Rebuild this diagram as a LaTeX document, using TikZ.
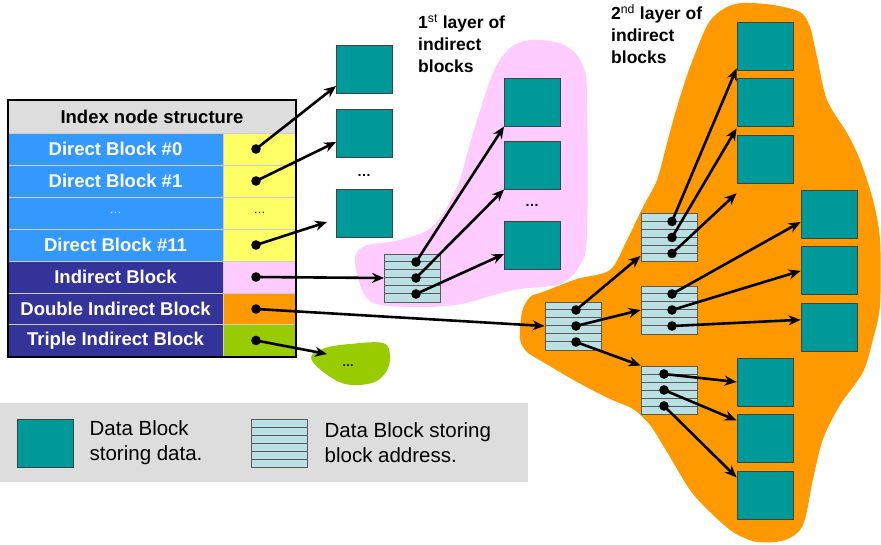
\documentclass[tikz,border=0pt]{standalone}
\usepackage{fontspec}
\setmainfont{Liberation Sans}
\usetikzlibrary{arrows.meta,positioning}

\definecolor{datateal}{RGB}{0,153,153}
\definecolor{addrcyan}{RGB}{187,224,227}
\definecolor{directblue}{RGB}{51,153,255}
\definecolor{indirblue}{RGB}{51,51,153}
\definecolor{ptryellow}{RGB}{255,255,102}
\definecolor{layerpink}{RGB}{255,204,255}
\definecolor{layerorange}{RGB}{255,153,0}
\definecolor{triplegreen}{RGB}{153,204,0}
\definecolor{headgray}{RGB}{221,221,221}

\tikzset{
  datablk/.style={draw=black!75, line width=0.9pt, fill=datateal,
    minimum width=56pt, minimum height=48pt, inner sep=0pt},
  addrblk/.style={draw=black!65, line width=0.9pt, fill=addrcyan,
    minimum width=56pt, minimum height=48pt, inner sep=0pt,
    path picture={\foreach \k in {1,...,5}
      \draw[black!65, line width=1pt]
        ([yshift=-\k*8pt]path picture bounding box.north west) --
        ([yshift=-\k*8pt]path picture bounding box.north east);}},
  headcell/.style={draw=gray!60, fill=headgray, minimum width=288pt,
    minimum height=33pt, inner sep=0pt, font=\fontsize{18.5}{20}\selectfont\bfseries},
  namecell/.style={draw=gray!40, text=white, minimum width=215pt,
    minimum height=32pt, inner sep=0pt, font=\fontsize{18.5}{20}\selectfont\bfseries},
  ptrcell/.style={draw=gray!40, minimum width=73pt, minimum height=32pt, inner sep=0pt},
  ptr/.style={line width=2.6pt, -{Stealth[length=12pt,width=10pt]}},
  layerlabel/.style={align=left, anchor=north west, inner sep=0pt,
    font=\fontsize{17.5}{22}\selectfont\bfseries},
  legendtxt/.style={align=left, anchor=west, inner sep=0pt,
    font=\fontsize{20.5}{25}\selectfont},
  moredots/.style={inner sep=0pt, font=\fontsize{14}{14}\selectfont\bfseries},
}

\begin{document}
\begin{tikzpicture}[x=1pt,y=-1pt]
\useasboundingbox (0,0) rectangle (881,545);

% layer backgrounds
\fill[layerpink] plot[smooth cycle, tension=0.55] coordinates {
  (355,262) (365,246) (400,240) (433,226) (457,187) (473,133) (493,73)
  (510,48) (530,40) (555,42) (572,50) (583,66) (587,95) (587,233)
  (580,265) (560,284) (520,289) (490,296) (462,304) (420,307) (370,301)};
\fill[layerorange] plot[smooth cycle, tension=0.5] coordinates {
  (743,3) (773,5) (800,12) (810,27) (817,57) (827,100) (847,133) (860,160)
  (873,200) (880,240) (880,305) (873,339) (863,372) (840,405) (823,439)
  (813,479) (803,525) (785,540) (757,542) (733,532) (710,512) (690,490)
  (667,452) (650,425) (633,409) (610,399) (577,382) (543,362) (527,352)
  (520,339) (522,312) (530,297) (543,292) (577,279) (610,270) (627,240)
  (643,207) (657,180) (667,143) (677,107) (690,67) (708,24) (725,8)};
\fill[triplegreen] plot[smooth cycle, tension=0.6] coordinates {
  (311,357) (325,348) (350,344) (383,343) (390,356) (386,372) (372,383)
  (345,384) (322,371)};

% legend
\fill[headgray] (0,403) rectangle (528,482);
\node[datablk] (leg1) at (45,443) {};
\node[legendtxt, right=16pt of leg1] (legtxt1) {Data Block\\storing data.};
\node[addrblk] (leg2) at (279,443) {};
\node[legendtxt, right=17pt of leg2] (legtxt2) {Data Block storing\\block address.};

% index node table
\node[headcell] (head) at (152,116.5) {Index node structure};
\foreach \i/\y/\txt/\bg/\pc in {
    0/149/Direct Block \#0/directblue/ptryellow,
    1/181/Direct Block \#1/directblue/ptryellow,
    2/213/{\mdseries\fontsize{12}{12}\selectfont\dots}/directblue/ptryellow,
    3/245/Direct Block \#11/directblue/ptryellow,
    4/277/Indirect Block/indirblue/layerpink,
    5/309/Double Indirect Block/indirblue/layerorange,
    6/340.5/Triple Indirect Block/indirblue/triplegreen}
{
  \node[namecell, fill=\bg] (n\i) at (115.5,\y) {\txt};
  \node[ptrcell, fill=\pc] (c\i) at (259.5,\y) {};
  \coordinate (t\i) at ([shift={(-3.5,0)}]c\i.center);
}
\node[inner sep=0pt, font=\fontsize{12}{12}\selectfont] (c2dots) at (c2) {\dots};
\draw[line width=2.4pt] (head.north west) rectangle (c6.south east);

% direct data blocks
\node[datablk] (d0) at (364.5,69) {};
\node[datablk] (d1) at (364.5,133) {};
\node[datablk] (d2) at (364.5,213.5) {};
\node[moredots] (ddots) at (364,175) {\dots};

% 1st layer
\node[layerlabel] (lab1) at (418,14.5) {1\textsuperscript{\mdseries st} layer of\\indirect\\blocks};
\node[datablk] (p0) at (532.5,102) {};
\node[datablk] (p1) at (532.5,165) {};
\node[datablk] (p2) at (532.5,245) {};
\node[moredots] (pdots) at (532,205) {\dots};
\node[addrblk] (pi) at (412.5,278) {};

% 2nd layer
\node[layerlabel] (lab2) at (611,4.5) {2\textsuperscript{\mdseries nd} layer of\\indirect\\blocks};
\node[addrblk] (m) at (573,326) {};
\node[addrblk] (sa) at (669,237.5) {};
\node[addrblk] (sb) at (669,310) {};
\node[addrblk] (sc) at (669,390) {};
\node[datablk] (o0) at (765,46) {};
\node[datablk, below=8pt of o0] (o1) {};
\node[datablk, below=8pt of o1] (o2) {};
\node[datablk] (o3) at (765,382) {};
\node[datablk, below=8pt of o3] (o4) {};
\node[datablk, below=8pt of o4] (o5) {};
\node[datablk] (q0) at (829,214) {};
\node[datablk, below=8pt of q0] (q1) {};
\node[datablk, below=8pt of q1] (q2) {};

% 3rd layer
\node[moredots, font=\fontsize{12}{12}\selectfont\bfseries] (gdots) at (348,366) {\dots};
\coordinate (tripleend) at (327,354);

% address slots
\foreach \b/\dx in {pi/3.5, m/3, sa/3, sb/3, sc/-5}
  \foreach \k/\dy in {1/-16, 2/0, 3/16}
    \coordinate (\b\k) at ([shift={(\dx,\dy)}]\b.center);

% pointers
\draw[ptr] (t0) -- ([shift={(0,17)}]d0.west);
\draw[ptr] (t1) -- ([shift={(0,9)}]d1.west);
\draw[ptr] (t3) -- ([shift={(-9,8.5)}]d2.west);
\draw[ptr] (t4) -- (pi.west);
\draw[ptr] (t5) -- (m.west);
\draw[ptr] (t6) -- (tripleend);

\draw[ptr] (pi1) -- (p0.south west);
\draw[ptr] (pi2) -- (p1.south west);
\draw[ptr] (pi3) -- ([shift={(0,9)}]p2.west);

\draw[ptr] (m1) -- ([shift={(0,-6)}]sa.south west);
\draw[ptr] (m2) -- (sb.west);
\draw[ptr] (m3) -- (sc.north west);

\draw[ptr] (sa1) -- ([shift={(0,-2)}]o0.south west);
\draw[ptr] (sa2) -- ([shift={(0,1)}]o1.south west);
\draw[ptr] (sa3) -- ([shift={(0,9)}]o2.south west);
\draw[ptr] (sb1) -- ([shift={(0,8)}]q0.west);
\draw[ptr] (sb2) -- (q1.west);
\draw[ptr] (sb3) -- ([shift={(0,-8)}]q2.west);
\draw[ptr] (sc1) -- (o3.west);
\draw[ptr] (sc2) -- ([shift={(0,6)}]o4.north west);
\draw[ptr] (sc3) -- ([shift={(0,6)}]o5.north west);

\foreach \c in {t0,t1,t3,t4,t5,t6,pi1,pi2,pi3,m1,m2,m3,sa1,sa2,sa3,sb1,sb2,sb3,sc1,sc2,sc3}
  \fill (\c) circle (4.8pt);
\end{tikzpicture}
\end{document}
